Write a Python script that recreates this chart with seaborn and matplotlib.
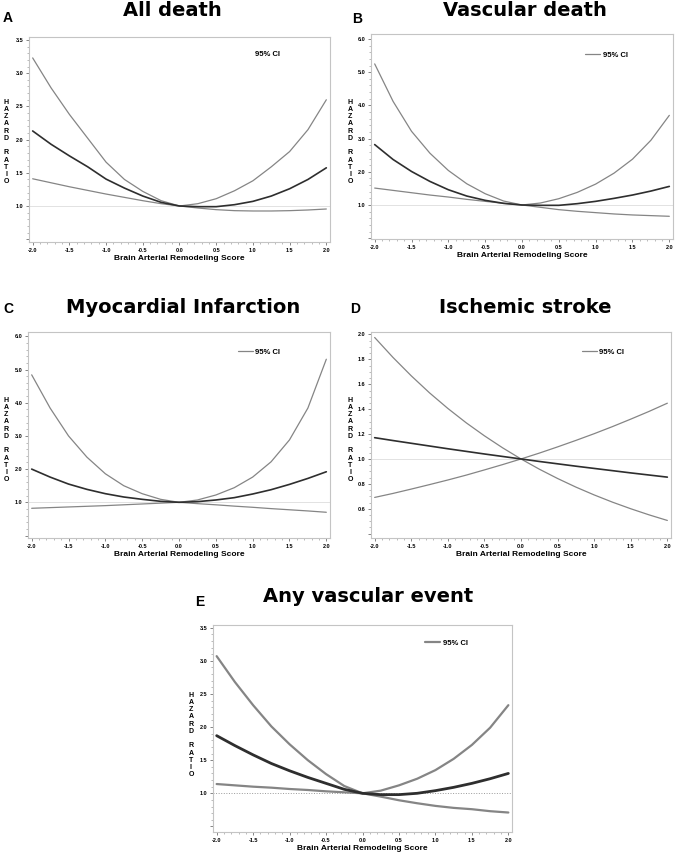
import matplotlib.pyplot as plt
import seaborn as sns
from matplotlib.ticker import AutoMinorLocator, FixedLocator

# Brain Arterial Remodeling Score grid
score = [-2.0, -1.75, -1.5, -1.25, -1.0, -0.75, -0.5, -0.25, 0.0,
         0.25, 0.5, 0.75, 1.0, 1.25, 1.5, 1.75, 2.0]

# A - All death
all_hr = [2.13, 1.93, 1.755, 1.59, 1.405, 1.27, 1.15, 1.055, 1.0,
          0.99, 0.99, 1.02, 1.07, 1.15, 1.26, 1.40, 1.575]
all_hi = [3.23, 2.78, 2.38, 2.02, 1.66, 1.40, 1.22, 1.08, 1.0,
          1.035, 1.11, 1.23, 1.38, 1.59, 1.82, 2.15, 2.60]
all_lo = [1.41, 1.35, 1.29, 1.235, 1.18, 1.13, 1.08, 1.035, 1.0,
          0.97, 0.945, 0.93, 0.925, 0.925, 0.93, 0.94, 0.955]

# B - Vascular death
vasc_hr = [2.82, 2.37, 2.01, 1.71, 1.46, 1.27, 1.14, 1.05, 1.0,
           0.99, 0.99, 1.04, 1.11, 1.20, 1.30, 1.42, 1.56]
vasc_hi = [5.25, 4.12, 3.22, 2.56, 2.04, 1.64, 1.34, 1.12, 1.0,
           1.06, 1.19, 1.38, 1.63, 1.96, 2.38, 2.95, 3.70]
vasc_lo = [1.51, 1.44, 1.37, 1.30, 1.24, 1.17, 1.11, 1.05, 1.0,
           0.93, 0.86, 0.81, 0.77, 0.73, 0.70, 0.68, 0.66]

# C - Myocardial infarction
mi_hr = [2.00, 1.76, 1.55, 1.39, 1.26, 1.16, 1.09, 1.03, 1.0,
         1.02, 1.07, 1.14, 1.25, 1.38, 1.54, 1.72, 1.92]
mi_hi = [4.84, 3.84, 3.00, 2.36, 1.86, 1.50, 1.26, 1.09, 1.0,
         1.07, 1.22, 1.44, 1.76, 2.22, 2.88, 3.84, 5.31]
mi_lo = [0.82, 0.84, 0.86, 0.88, 0.90, 0.925, 0.95, 0.975, 1.0,
         0.96, 0.925, 0.885, 0.85, 0.81, 0.775, 0.74, 0.70]

# D - Ischemic stroke
stroke_hr = [1.171, 1.148, 1.126, 1.104, 1.082, 1.061, 1.040, 1.020, 1.0,
             0.980, 0.961, 0.942, 0.924, 0.906, 0.888, 0.871, 0.854]
stroke_hi = [1.976, 1.816, 1.668, 1.531, 1.406, 1.291, 1.186, 1.089, 1.0,
             0.918, 0.843, 0.774, 0.711, 0.653, 0.600, 0.551, 0.506]
stroke_lo = [0.691, 0.723, 0.758, 0.794, 0.831, 0.870, 0.912, 0.955, 1.0,
             1.047, 1.097, 1.149, 1.203, 1.260, 1.320, 1.382, 1.448]

# E - Any vascular event
any_hr = [1.87, 1.72, 1.58, 1.45, 1.34, 1.24, 1.15, 1.06, 1.0,
          0.98, 0.98, 1.00, 1.04, 1.09, 1.15, 1.22, 1.30]
any_hi = [3.07, 2.68, 2.33, 2.01, 1.74, 1.50, 1.29, 1.11, 1.0,
          1.04, 1.12, 1.22, 1.35, 1.52, 1.73, 1.99, 2.33]
any_lo = [1.14, 1.12, 1.10, 1.085, 1.065, 1.05, 1.03, 1.015, 1.0,
          0.95, 0.895, 0.85, 0.81, 0.78, 0.76, 0.73, 0.71]

x_ticks = [-2.0, -1.5, -1.0, -0.5, 0.0, 0.5, 1.0, 1.5, 2.0]

sns.set_style("ticks")
plt.rcParams["font.family"] = ["Liberation Sans", "DejaVu Sans"]
plt.rcParams["font.weight"] = "bold"
for key in ["text.color", "axes.labelcolor", "xtick.labelcolor", "ytick.labelcolor"]:
    plt.rcParams[key] = "black"

W, H = 683, 855
fig = plt.figure(figsize=(W / 100, H / 100), dpi=100)


def px(x, y):
    return x / W, 1 - y / H


# layout in pixels: axes box (left, top, right, bottom)
panels = [
    dict(letter="A", title="All death", hr=all_hr, hi=all_hi, lo=all_lo,
         box=(29, 37, 330, 242), ylim=(0.458, 3.545),
         yticks=[0.5, 1.0, 1.5, 2.0, 2.5, 3.0, 3.5], minor=5,
         title_xy=(172, 15.5), letter_xy=(8, 18), ylab_xy=(6, 142),
         leg=(0.75, 0.917), handle=False, thick=False),
    dict(letter="B", title="Vascular death", hr=vasc_hr, hi=vasc_hi, lo=vasc_lo,
         box=(371, 34, 673, 239), ylim=(-0.024, 6.15),
         yticks=[0, 1, 2, 3, 4, 5, 6], minor=5,
         title_xy=(525, 15.5), letter_xy=(357, 19), ylab_xy=(350, 142),
         leg=(0.709, 0.898), handle=True, thick=False),
    dict(letter="C", title="Myocardial Infarction", hr=mi_hr, hi=mi_hi, lo=mi_lo,
         box=(28, 332, 330, 538), ylim=(-0.075, 6.13),
         yticks=[0, 1, 2, 3, 4, 5, 6], minor=5,
         title_xy=(183, 313), letter_xy=(8, 309), ylab_xy=(6, 440),
         leg=(0.695, 0.903), handle=True, thick=False),
    dict(letter="D", title="Ischemic stroke", hr=stroke_hr, hi=stroke_hi, lo=stroke_lo,
         box=(371, 332, 671, 538), ylim=(0.365, 2.02),
         yticks=[0.4, 0.6, 0.8, 1.0, 1.2, 1.4, 1.6, 1.8, 2.0], minor=4,
         title_xy=(525, 313), letter_xy=(355, 309), ylab_xy=(350, 440),
         leg=(0.703, 0.903), handle=True, thick=False),
    dict(letter="E", title="Any vascular event", hr=any_hr, hi=any_hi, lo=any_lo,
         box=(213, 625, 512, 832), ylim=(0.416, 3.54),
         yticks=[0.5, 1.0, 1.5, 2.0, 2.5, 3.0, 3.5], minor=5,
         title_xy=(368, 601.5), letter_xy=(200, 602), ylab_xy=(191, 735),
         leg=(0.709, 0.913), handle=True, thick=True),
]

for p in panels:
    l, t, r, b = p["box"]
    ax = fig.add_axes([l / W, 1 - b / H, (r - l) / W, (b - t) / H])

    ci_lw, hr_lw = (1.6, 2.0) if p["thick"] else (0.9, 1.2)
    if p["thick"]:
        ax.axhline(1.0, color="#9a9a9a", lw=0.7, ls=":", zorder=0)
    else:
        ax.axhline(1.0, color="#e2e2e2", lw=0.7, zorder=0)

    sns.lineplot(x=score, y=p["hi"], ax=ax, color="#858585", lw=ci_lw,
                 label="95% CI", solid_joinstyle="round")
    sns.lineplot(x=score, y=p["lo"], ax=ax, color="#858585", lw=ci_lw,
                 solid_joinstyle="round")
    sns.lineplot(x=score, y=p["hr"], ax=ax, color="#2e2e2e", lw=hr_lw,
                 solid_joinstyle="round")

    ax.set_xlim(-2.05, 2.05)
    ax.set_ylim(*p["ylim"])
    ax.set_xticks(x_ticks)
    ax.set_xticklabels([f"{v:.1f}" for v in x_ticks])
    ax.yaxis.set_major_locator(FixedLocator(p["yticks"]))
    ax.set_yticklabels([""] + [f"{v:.1f}" for v in p["yticks"][1:]])
    ax.xaxis.set_minor_locator(AutoMinorLocator(5))
    ax.yaxis.set_minor_locator(AutoMinorLocator(p["minor"]))
    ax.tick_params(which="major", labelsize=4, length=2.5, width=0.5,
                   pad=1.5, color="#555555")
    ax.tick_params(which="minor", length=1.5, width=0.4, color="#888888")
    for s in ax.spines.values():
        s.set_color("#c4c4c4")
        s.set_linewidth(0.8)

    ax.set_xlabel("Brain Arterial Remodeling Score", fontsize=6,
                  fontweight="bold", labelpad=2)
    ax.set_ylabel("")

    if p["handle"]:
        leg = ax.legend(loc="center left", bbox_to_anchor=p["leg"], frameon=False,
                        fontsize=5.5, handlelength=2.0, handletextpad=0.3,
                        borderpad=0, borderaxespad=0)
    else:
        leg = ax.legend(loc="center left", bbox_to_anchor=p["leg"], frameon=False,
                        fontsize=5.5, handlelength=0, handletextpad=0,
                        borderpad=0, borderaxespad=0)
        for h in leg.legend_handles:
            h.set_visible(False)

    fig.text(*px(*p["title_xy"]), p["title"], fontsize=14, ha="center",
             va="baseline", color="black", family="DejaVu Sans",
             fontweight="bold")
    fig.text(*px(*p["letter_xy"]), p["letter"], fontsize=10, fontweight="bold",
             ha="center", va="center")
    fig.text(*px(*p["ylab_xy"]), "H\nA\nZ\nA\nR\nD\n\nR\nA\nT\nI\nO",
             fontsize=5, fontweight="bold", ha="center", va="center",
             linespacing=1.05)

fig.savefig("out.png", dpi=100)
